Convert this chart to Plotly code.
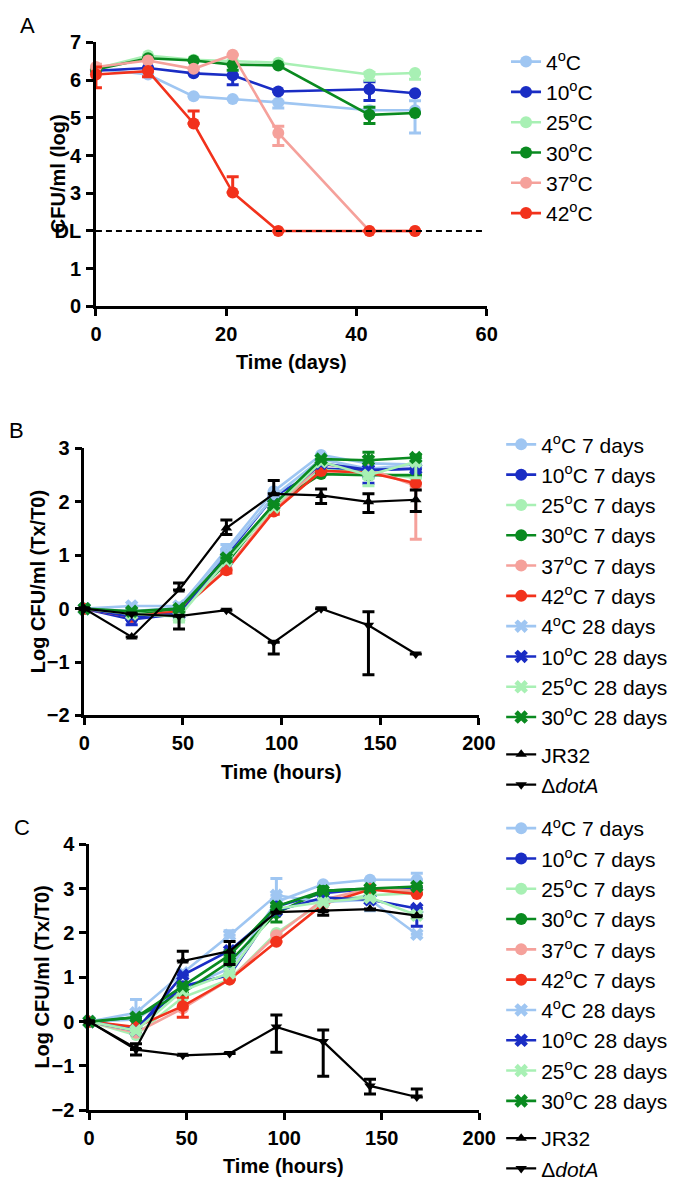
import plotly.graph_objects as go

# ---------------- DATA ----------------
days = [0, 8, 15, 21, 28, 42, 49]
DL = 2
A_labels = ["4<sup>o</sup>C", "10<sup>o</sup>C", "25<sup>o</sup>C", "30<sup>o</sup>C", "37<sup>o</sup>C", "42<sup>o</sup>C"]
A_vals = [
    [6.30, 6.15, 5.57, 5.50, 5.41, 5.20, 5.20],
    [6.25, 6.32, 6.18, 6.13, 5.70, 5.76, 5.65],
    [6.30, 6.65, 6.54, 6.50, 6.46, 6.15, 6.19],
    [6.28, 6.58, 6.52, 6.41, 6.39, 5.08, 5.13],
    [6.35, 6.52, 6.30, 6.67, 4.60, 2.00, 2.00],
    [6.15, 6.24, 4.85, 3.02, 2.00, 2.00, 2.00],
]
A_err_up = [
    [0.05, 0, 0, 0, 0.03, 0, 0.25],
    [0, 0, 0, 0, 0, 0.20, 0],
    [0, 0, 0, 0, 0, 0.05, 0],
    [0, 0, 0, 0, 0, 0.20, 0],
    [0.07, 0, 0, 0, 0.18, 0, 0],
    [0.20, 0, 0.33, 0.42, 0, 0, 0],
]
A_err_dn = [
    [0, 0, 0, 0, 0.15, 0, 0.60],
    [0, 0, 0, 0.25, 0, 0.30, 0],
    [0, 0, 0, 0, 0, 0.15, 0.17],
    [0, 0, 0, 0.15, 0, 0.23, 0],
    [0, 0, 0, 0, 0.33, 0, 0],
    [0.35, 0.15, 0, 0, 0, 0, 0],
]

hours = [0, 24, 48, 72, 96, 120, 144, 168]
BC_labels = ["4<sup>o</sup>C 7 days", "10<sup>o</sup>C 7 days", "25<sup>o</sup>C 7 days",
             "30<sup>o</sup>C 7 days", "37<sup>o</sup>C 7 days", "42<sup>o</sup>C 7 days",
             "4<sup>o</sup>C 28 days", "10<sup>o</sup>C 28 days", "25<sup>o</sup>C 28 days",
             "30<sup>o</sup>C 28 days", "JR32", "Δ<i>dotA</i>"]

B_vals = [
    [0, -0.05, 0.02, 1.10, 2.20, 2.88, 2.72, 2.70],
    [0, -0.20, -0.10, 1.00, 2.10, 2.62, 2.60, 2.62],
    [0, -0.10, -0.05, 0.85, 1.95, 2.60, 2.55, 2.45],
    [0, -0.12, -0.02, 0.85, 1.95, 2.52, 2.50, 2.50],
    [0, -0.15, -0.05, 0.75, 1.85, 2.70, 2.62, 2.30],
    [0, -0.15, -0.05, 0.72, 1.82, 2.58, 2.55, 2.35],
    [0, 0.05, 0.05, 1.05, 2.10, 2.80, 2.62, 2.70],
    [0, -0.15, -0.10, 0.90, 1.95, 2.72, 2.60, 2.62],
    [0, -0.10, -0.15, 0.90, 1.90, 2.75, 2.50, 2.75],
    [0, -0.05, 0.00, 0.95, 1.95, 2.80, 2.78, 2.83],
    [0, -0.53, 0.35, 1.51, 2.15, 2.12, 2.00, 2.04],
    [0, -0.10, -0.14, -0.03, -0.63, 0.00, -0.31, -0.85],
]
B_err_up = [
    [0, 0, 0, 0.10, 0, 0, 0, 0.10],
    [0, 0, 0, 0, 0, 0, 0, 0],
    [0, 0, 0, 0, 0, 0, 0, 0],
    [0, 0, 0, 0, 0, 0, 0.12, 0],
    [0, 0, 0, 0, 0, 0, 0, 0],
    [0, 0, 0, 0, 0, 0, 0, 0],
    [0, 0, 0, 0, 0, 0, 0, 0],
    [0, 0, 0, 0, 0, 0, 0, 0],
    [0, 0, 0, 0, 0, 0, 0, 0],
    [0, 0, 0, 0, 0, 0, 0.15, 0.05],
    [0, 0, 0.13, 0.15, 0.25, 0.12, 0.15, 0.18],
    [0, 0, 0, 0, 0, 0, 0.25, 0],
]
B_err_dn = [
    [0, 0, 0, 0, 0, 0.25, 0, 0],
    [0, 0.10, 0, 0, 0, 0.10, 0.25, 0.15],
    [0, 0, 0, 0, 0, 0, 0, 0.15],
    [0, 0, 0, 0, 0, 0, 0, 0],
    [0, 0, 0, 0, 0, 0, 0, 1.00],
    [0, 0, 0, 0.05, 0.05, 0, 0, 0],
    [0, 0, 0, 0, 0, 0, 0, 0],
    [0, 0, 0, 0, 0, 0, 0.15, 0],
    [0, 0, 0.10, 0, 0, 0, 0.20, 0.30],
    [0, 0, 0, 0, 0, 0, 0, 0],
    [0, 0, 0, 0.12, 0, 0.15, 0.20, 0.22],
    [0, 0, 0.24, 0, 0.22, 0, 0.93, 0],
]

C_vals = [
    [0, 0.05, 0.75, 1.20, 2.70, 3.10, 3.20, 3.20],
    [0, -0.15, 0.80, 1.05, 2.60, 2.90, 3.00, 3.00],
    [0, -0.30, 0.55, 0.95, 2.00, 2.70, 2.85, 2.90],
    [0, 0.10, 0.65, 1.35, 2.45, 2.95, 3.00, 2.95],
    [0, -0.25, 0.30, 0.95, 1.95, 2.75, 3.00, 2.95],
    [0, -0.12, 0.35, 0.95, 1.80, 2.65, 2.98, 2.88],
    [0, 0.20, 1.10, 1.95, 2.85, 2.70, 2.75, 1.97],
    [0, -0.20, 1.05, 1.60, 2.50, 2.80, 2.75, 2.55],
    [0, -0.20, 0.70, 1.10, 2.55, 2.70, 2.80, 2.40],
    [0, 0.10, 0.80, 1.50, 2.60, 2.95, 3.00, 3.05],
    [0, -0.60, 1.37, 1.59, 2.47, 2.50, 2.54, 2.39],
    [0, -0.63, -0.76, -0.72, -0.12, -0.45, -1.45, -1.70],
]
C_err_up = [
    [0, 0, 0, 0, 0, 0, 0, 0.15],
    [0, 0, 0, 0, 0, 0, 0, 0],
    [0, 0, 0, 0, 0, 0, 0, 0],
    [0, 0, 0, 0, 0.10, 0, 0, 0],
    [0, 0, 0, 0, 0, 0, 0, 0],
    [0, 0, 0.20, 0, 0, 0, 0, 0],
    [0, 0.30, 0, 0.10, 0.38, 0, 0, 0],
    [0, 0, 0, 0, 0, 0, 0, 0],
    [0, 0, 0, 0, 0, 0, 0, 0],
    [0, 0, 0, 0, 0, 0, 0, 0],
    [0, 0.10, 0.22, 0.22, 0, 0, 0, 0],
    [0, 0, 0, 0, 0.27, 0.26, 0.15, 0.18],
]
C_err_dn = [
    [0, 0, 0, 0, 0, 0, 0, 0],
    [0, 0, 0, 0, 0, 0, 0, 0],
    [0, 0, 0, 0, 0, 0, 0, 0],
    [0, 0, 0, 0, 0.20, 0, 0, 0],
    [0, 0, 0, 0, 0, 0, 0, 0],
    [0, 0, 0.25, 0, 0, 0, 0, 0],
    [0, 0, 0, 0, 0, 0, 0.25, 0],
    [0, 0, 0, 0, 0, 0, 0, 0.40],
    [0, 0, 0, 0, 0, 0, 0, 0],
    [0, 0, 0, 0, 0, 0, 0, 0],
    [0, 0.15, 0, 0.30, 0, 0.10, 0, 0],
    [0, 0, 0, 0, 0.57, 0.78, 0.18, 0],
]

# ---------------- STYLE ----------------
LB, DB, LG, GR, PK, RD, BK = "#9fc6f2", "#1a2dc4", "#a8f0b4", "#0a8a20", "#f5a19b", "#f2321c", "#000000"
A_colors = [LB, DB, LG, GR, PK, RD]
BC_colors = [LB, DB, LG, GR, PK, RD, LB, DB, LG, GR, BK, BK]
BC_symbols = ["circle"] * 6 + ["x"] * 4 + ["triangle-up", "triangle-down"]
FONT = "Arial, Liberation Sans, sans-serif"

fig = go.Figure()

def add(x, y, up, dn, name, color, symbol, xa, ya, legend, grp):
    black = color == BK
    fig.add_trace(go.Scatter(
        x=x, y=y, name=name, mode="lines+markers",
        xaxis=xa, yaxis=ya, legend=legend, legendgroup=grp,
        line=dict(color=color, width=2.2 if black else 2.6),
        marker=dict(color=color, symbol=symbol, size=10 if black else 12,
                    line=dict(width=0)),
        error_y=dict(type="data", symmetric=False, array=up, arrayminus=dn,
                     color=color, thickness=3, width=6),
        cliponaxis=False,
    ))

for i in range(6):
    add(days, A_vals[i], A_err_up[i], A_err_dn[i], A_labels[i], A_colors[i], "circle", "x", "y", "legend", "a")
for i in range(12):
    add(hours, B_vals[i], B_err_up[i], B_err_dn[i], BC_labels[i], BC_colors[i], BC_symbols[i], "x2", "y2", "legend2",
        "b1" if i < 10 else "b2")
for i in range(12):
    add(hours, C_vals[i], C_err_up[i], C_err_dn[i], BC_labels[i], BC_colors[i], BC_symbols[i], "x3", "y3", "legend3",
        "c1" if i < 10 else "c2")

W, H = 700, 1191
def fx(px): return px / W
def fy(py): return 1 - py / H

tickfont = dict(family=FONT, size=20, color="black", weight="bold")
axis_common = dict(showline=True, linecolor="black", linewidth=2.5, ticks="outside",
                   ticklen=7, tickwidth=2.5, tickcolor="black", showgrid=False, zeroline=False,
                   tickfont=tickfont, ticklabelstandoff=1)

legfont = dict(family=FONT, size=21, color="black")
leg_common = dict(font=legfont, bgcolor="rgba(0,0,0,0)", traceorder="grouped",
                  tracegroupgap=7, xanchor="left", yanchor="top", itemwidth=30)

fig.update_layout(
    width=W, height=H, margin=dict(l=0, r=0, t=0, b=0),
    paper_bgcolor="white", plot_bgcolor="white", showlegend=True,
    xaxis=dict(axis_common, domain=[fx(93), fx(497)], range=[0, 60], tickvals=[0, 20, 40, 60], anchor="y"),
    yaxis=dict(axis_common, domain=[fy(301), fy(32)], range=[0, 7], tickvals=[0, 1, 2, 3, 4, 5, 6, 7],
               ticktext=["0", "1", "DL", "3", "4", "5", "6", "7"], anchor="x"),
    xaxis2=dict(axis_common, domain=[fx(81), fx(489)], range=[0, 200], tickvals=[0, 50, 100, 150, 200], anchor="y2"),
    yaxis2=dict(axis_common, domain=[fy(717.7), fy(445.7)], range=[-2, 3], tickvals=[-2, -1, 0, 1, 2, 3], anchor="x2"),
    xaxis3=dict(axis_common, domain=[fx(86), fx(489.3)], range=[0, 200], tickvals=[0, 50, 100, 150, 200], anchor="y3"),
    yaxis3=dict(axis_common, domain=[fy(1120), fy(849)], range=[-2, 4], tickvals=[-2, -1, 0, 1, 2, 3, 4], anchor="x3"),
    legend=dict(leg_common, x=fx(517), y=fy(31)),
    legend2=dict(leg_common, x=fx(512), y=fy(421)),
    legend3=dict(leg_common, x=fx(512), y=fy(812)),
)

# detection limit line
fig.add_shape(type="line", xref="x", yref="y", x0=0, x1=59.5, y0=DL, y1=DL,
              line=dict(color="black", width=2, dash="6px,4px"))

def ann(text, x, y, size=20, bold=True, angle=0, xanchor="center"):
    fig.add_annotation(text=text, x=fx(x), y=fy(y), xref="paper", yref="paper", showarrow=False,
                       textangle=angle, xanchor=xanchor, yanchor="middle",
                       font=dict(family=FONT, size=size, color="black", weight="bold" if bold else "normal"))

ann("A", 12, 15, size=22, bold=False, xanchor="left")
ann("B", 1, 427, size=22, bold=False, xanchor="left")
ann("C", 6, 832, size=22, bold=False, xanchor="left")
ann("CFU/ml (log)", 54, 166, angle=-90)
ann("Time (days)", 295, 358)
ann("Log CFU/ml (Tx/T0)", 33, 581, angle=-90)
ann("Time (hours)", 285, 775)
ann("Log CFU/ml (Tx/T0)", 37, 984, angle=-90)
ann("Time (hours)", 287, 1177)

fig.write_html("out.html", config={"displayModeBar": False},
               post_script="document.body.style.margin='0px';document.body.style.overflow='hidden';")
